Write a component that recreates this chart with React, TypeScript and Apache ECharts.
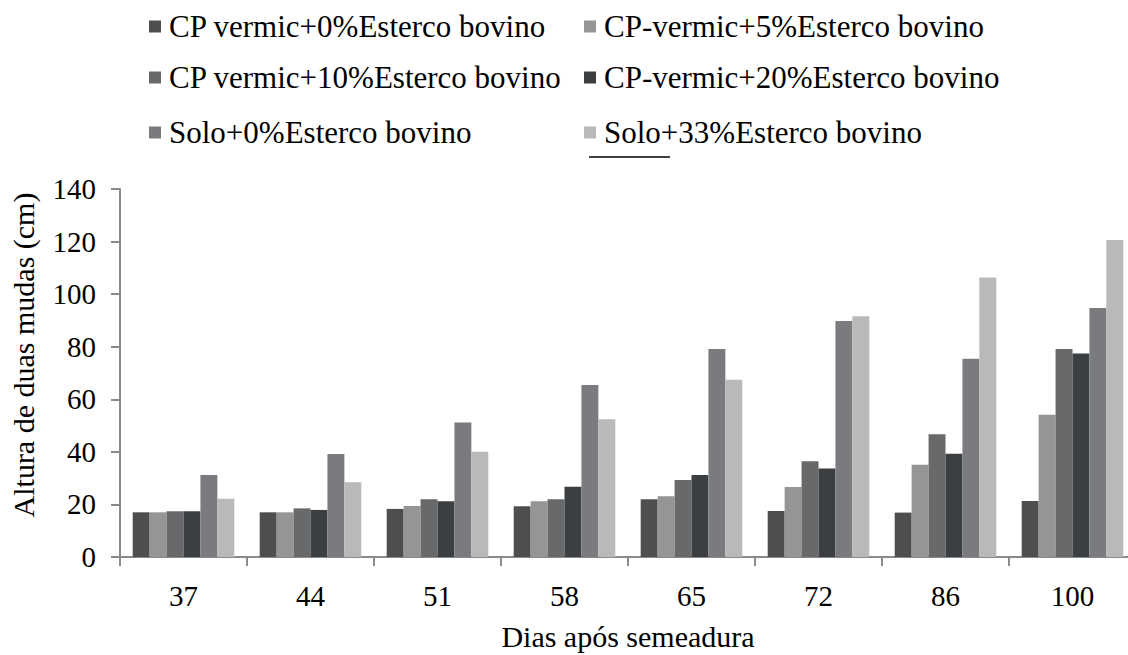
import React, { useEffect, useRef } from "react";
import * as echarts from "echarts";

const categories = ["37", "44", "51", "58", "65", "72", "86", "100"];
const seriesNames = [
  "CP vermic+0%Esterco bovino",
  "CP-vermic+5%Esterco bovino",
  "CP vermic+10%Esterco bovino",
  "CP-vermic+20%Esterco bovino",
  "Solo+0%Esterco bovino",
  "Solo+33%Esterco bovino",
];
const cpVermic0 = [17, 17, 18.3, 19.3, 22, 17.5, 16.9, 21.3];
const cpVermic5 = [17, 17, 19.4, 21.2, 23.1, 26.6, 35.1, 54.1];
const cpVermic10 = [17.4, 18.5, 22, 22, 29.3, 36.4, 46.7, 79.1];
const cpVermic20 = [17.4, 17.9, 21.2, 26.7, 31.2, 33.7, 39.3, 77.4];
const solo0 = [31.2, 39.2, 51.2, 65.4, 79.1, 89.8, 75.4, 94.7];
const solo33 = [22.2, 28.4, 40, 52.4, 67.4, 91.6, 106.3, 120.6];
const seriesValues = [cpVermic0, cpVermic5, cpVermic10, cpVermic20, solo0, solo33];
const colors = ["#4d4e50", "#939596", "#67696b", "#3c3f42", "#797b7e", "#b8b9b9"];

const FONT = "Liberation Serif";

export default function App() {
  const ref = useRef<HTMLDivElement>(null);
  useEffect(() => {
    const chart = echarts.init(ref.current!, null, { renderer: "svg" });
    const legendPos = [
      { left: 149, top: 11 },
      { left: 584, top: 11 },
      { left: 149, top: 62 },
      { left: 584, top: 62 },
      { left: 149, top: 117 },
      { left: 584, top: 117 },
    ];
    chart.setOption({
      animation: false,
      backgroundColor: "#ffffff",
      textStyle: { fontFamily: FONT },
      legend: seriesNames.map((n, i) => ({
        data: [n],
        left: legendPos[i].left,
        top: legendPos[i].top,
        padding: 0,
        itemWidth: 12,
        itemHeight: 12,
        icon: "rect",
        textStyle: {
          fontFamily: FONT,
          fontSize: 31,
          color: "#000",
          padding: [0, 0, 0, 3],
        },
      })),
      grid: { left: 120, top: 189, width: 1016, height: 368, outerBoundsMode: "none", containLabel: false },
      xAxis: {
        type: "category",
        data: categories,
        name: "Dias após semeadura",
        nameLocation: "middle",
        nameGap: 64,
        nameTextStyle: { fontFamily: FONT, fontSize: 30, color: "#000" },
        axisLine: { lineStyle: { color: "#8a8a8a", width: 2 } },
        axisTick: { show: true, length: 9, lineStyle: { color: "#8a8a8a", width: 2 } },
        axisLabel: { fontFamily: FONT, fontSize: 29, color: "#000", margin: 24 },
      },
      yAxis: {
        type: "value",
        min: 0,
        max: 140,
        interval: 20,
        name: "Altura de duas mudas (cm)",
        nameLocation: "middle",
        nameGap: 82,
        nameTextStyle: { fontFamily: FONT, fontSize: 30, color: "#000", padding: [0, 0, 0, 36] },
        axisLine: { show: true, lineStyle: { color: "#8a8a8a", width: 2 } },
        axisTick: { show: true, length: 9, lineStyle: { color: "#8a8a8a", width: 2 } },
        splitLine: { show: false },
        axisLabel: { fontFamily: FONT, fontSize: 29, color: "#000", margin: 24 },
      },
      series: seriesNames.map((n, i) => ({
        name: n,
        type: "bar",
        data: seriesValues[i],
        barGap: "0%",
        barCategoryGap: "20%",
        itemStyle: { color: colors[i] },
      })),
      graphic: [
        {
          type: "line",
          shape: { x1: 589, y1: 157, x2: 670, y2: 157 },
          style: { stroke: "#000", lineWidth: 1.5 },
        },
      ],
    });
    return () => chart.dispose();
  }, []);
  return (
    <div
      ref={ref}
      style={{ position: "fixed", left: 0, top: 0, width: 1128, height: 655 }}
    />
  );
}
